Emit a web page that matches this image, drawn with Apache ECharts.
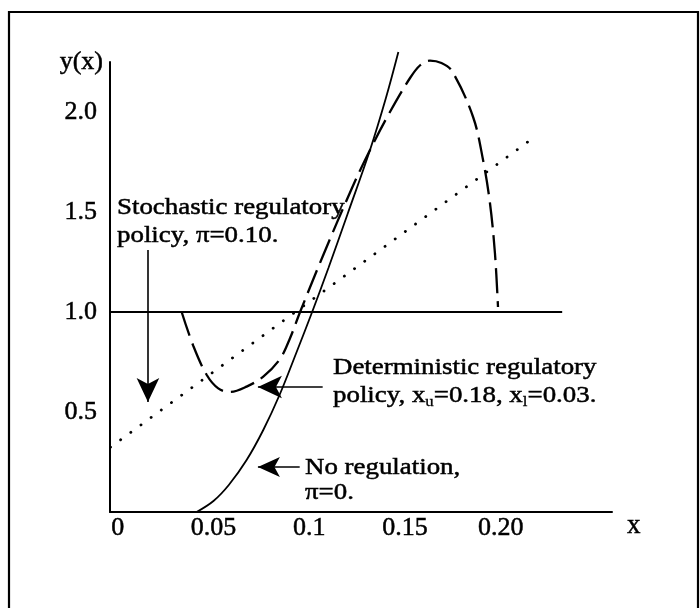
<!DOCTYPE html>
<html>
<head>
<meta charset="utf-8">
<script src="https://cdn.jsdelivr.net/npm/echarts@6/dist/echarts.min.js"></script>
<style>
html, body { margin: 0; padding: 0; background: #fff; }
#chart { width: 700px; height: 608px; }
</style>
</head>
<body>
<div id="chart"></div>
<script>
// Tick labels on both axes
const xTickValues = [0, 0.05, 0.1, 0.15, 0.2];
const xTickLabels = ['0', '0.05', '0.1', '0.15', '0.20'];
const yTickValues = [0.5, 1.0, 1.5, 2.0];
const yTickLabels = ['0.5', '1.0', '1.5', '2.0'];

// No regulation, pi = 0
const noRegX = [0.0412, 0.0500, 0.0580, 0.0673, 0.0760, 0.0847, 0.0930, 0.1015, 0.1100, 0.1200, 0.1317, 0.1400, 0.1465];
const noRegY = [0.00, 0.055, 0.135, 0.26, 0.41, 0.59, 0.79, 1.00, 1.22, 1.49, 1.81, 2.07, 2.30];

// Deterministic regulatory policy, xu = 0.18, xl = 0.03
const detX = [0.0334, 0.0395, 0.0465, 0.0525, 0.0586, 0.0673, 0.0760, 0.0847, 0.0900, 0.0952, 0.1071, 0.1223, 0.1317, 0.1421, 0.1526, 0.1580, 0.1630, 0.1690, 0.1745, 0.1855, 0.1907, 0.1943, 0.1969, 0.1985];
const detY = [1.00, 0.83, 0.685, 0.618, 0.600, 0.627, 0.677, 0.765, 0.87, 1.00, 1.28, 1.62, 1.81, 2.00, 2.17, 2.235, 2.257, 2.245, 2.205, 1.975, 1.76, 1.545, 1.295, 1.025];

// Stochastic regulatory policy, pi = 0.10 (straight line)
const stochX = [-0.025, 0.214];
const stochY = [0.175, 1.85];

// Reference level y = 1
const levelX = [-0.004, 0.232];
const levelY = [1, 1];

const zip = (xs, ys) => xs.map((x, i) => [x, ys[i]]);

const FONT = 'Liberation Serif, Times New Roman, serif';
const INK = '#000';
// slightly heavier strokes for axis text
const HEAVY = { textBorderColor: INK, textBorderWidth: 0.5 };
// same effect for free-standing text elements
const HEAVY_G = { stroke: INK, lineWidth: 0.5 };

const chart = echarts.init(document.getElementById('chart'), null, { renderer: 'canvas' });

chart.setOption({
  animation: false,
  backgroundColor: '#fff',
  grid: { left: 110, right: 88, top: 62, bottom: 96 },
  xAxis: {
    type: 'value',
    min: -0.004,
    max: 0.258,
    name: 'x',
    nameLocation: 'end',
    nameGap: 15,
    nameTextStyle: Object.assign({ fontFamily: FONT, fontSize: 27, color: INK, align: 'left', verticalAlign: 'top' }, HEAVY),
    axisLine: { show: true, onZero: false, lineStyle: { color: INK, width: 2 } },
    axisTick: { show: false },
    splitLine: { show: false },
    axisLabel: Object.assign({
      customValues: xTickValues,
      formatter: v => xTickLabels[xTickValues.findIndex(t => Math.abs(t - v) < 1e-9)],
      fontFamily: FONT, fontSize: 26, color: INK, margin: 3
    }, HEAVY)
  },
  yAxis: {
    type: 'value',
    min: 0,
    max: 2.25,
    name: 'y(x)',
    nameLocation: 'end',
    nameGap: 0,
    nameTextStyle: Object.assign({ fontFamily: FONT, fontSize: 26, color: INK, align: 'right', verticalAlign: 'middle', padding: [0, 7, 0, 0] }, HEAVY),
    axisLine: { show: true, onZero: false, lineStyle: { color: INK, width: 2 } },
    axisTick: { show: false },
    splitLine: { show: false },
    axisLabel: Object.assign({
      customValues: yTickValues,
      formatter: v => yTickLabels[yTickValues.findIndex(t => Math.abs(t - v) < 1e-9)],
      fontFamily: FONT, fontSize: 26, color: INK, margin: 13
    }, HEAVY)
  },
  series: [
    {
      name: 'level',
      type: 'line',
      data: zip(levelX, levelY),
      symbol: 'none',
      clip: false,
      silent: true,
      lineStyle: { color: INK, width: 2 },
      markLine: {
        silent: true,
        symbol: ['none', 'arrow'],
        symbolSize: [17, 24],
        label: { show: false },
        lineStyle: { color: INK, width: 1.6, type: 'solid' },
        data: [
          [{ coord: [0.0158, 1.31] }, { coord: [0.0158, 0.55] }],
          [{ coord: [0.107, 0.625] }, { coord: [0.0732, 0.625] }],
          [{ coord: [0.095, 0.225] }, { coord: [0.0732, 0.225], symbolSize: [15, 22] }]
        ]
      }
    },
    {
      name: 'No regulation',
      type: 'line',
      data: zip(noRegX, noRegY),
      smooth: 0.35,
      symbol: 'none',
      clip: false,
      silent: true,
      lineStyle: { color: INK, width: 1.8 }
    },
    {
      name: 'Deterministic',
      type: 'line',
      data: zip(detX, detY),
      smooth: 0.35,
      symbol: 'none',
      clip: false,
      silent: true,
      lineStyle: { color: INK, width: 2.3, type: [25, 8] }
    },
    {
      name: 'Stochastic',
      type: 'line',
      data: zip(stochX, stochY),
      symbol: 'none',
      clip: false,
      silent: true,
      lineStyle: { color: INK, width: 2.8, type: [0.1, 12.5], cap: 'round' }
    }
  ],
  graphic: [
    {
      type: 'rect',
      shape: { x: 9, y: 12, width: 689, height: 640 },
      style: { fill: 'none', stroke: INK, lineWidth: 2.2 },
      silent: true
    },
    {
      type: 'text', x: 117, y: 194, scaleX: 1.12,
      style: Object.assign({
        text: 'Stochastic regulatory\npolicy, π=0.10.',
        fontFamily: FONT, fontSize: 24, lineHeight: 28, fill: INK, verticalAlign: 'top'
      }, HEAVY_G)
    },
    {
      type: 'text', x: 333, y: 354, scaleX: 1.12,
      style: Object.assign({
        text: 'Deterministic regulatory\npolicy, x{sub|u}=0.18, x{sub|l}=0.03.',
        fontFamily: FONT, fontSize: 24, lineHeight: 28, fill: INK, verticalAlign: 'top',
        rich: {
          sub: { fontFamily: FONT, fontSize: 15, lineHeight: 12, verticalAlign: 'bottom', fill: INK, stroke: INK, lineWidth: 0.3 }
        }
      }, HEAVY_G)
    },
    {
      type: 'text', x: 305, y: 455, scaleX: 1.12,
      style: Object.assign({
        text: 'No regulation,\nπ=0.',
        fontFamily: FONT, fontSize: 24, lineHeight: 25, fill: INK, verticalAlign: 'top'
      }, HEAVY_G)
    }
  ]
});
</script>
</body>
</html>
